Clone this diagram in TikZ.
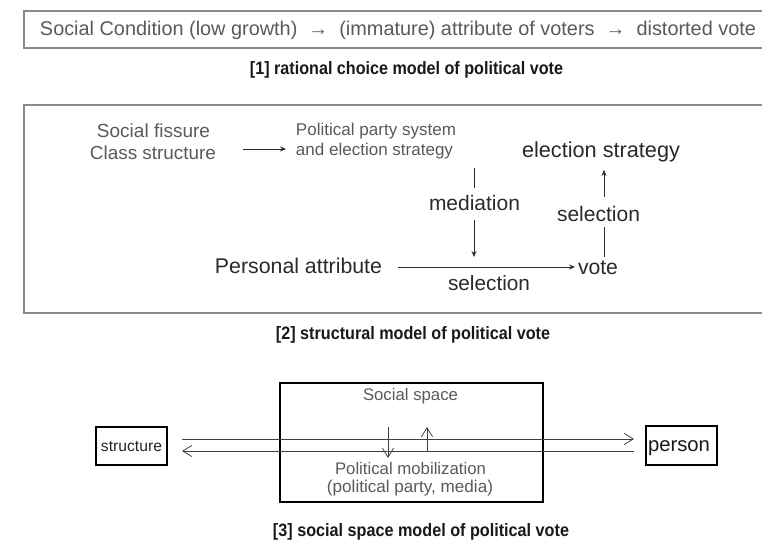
\documentclass[tikz,border=0pt]{standalone}
\usepackage{fontspec}
\setmainfont{Liberation Sans}
\usepackage{graphicx}
\usetikzlibrary{arrows.meta}
\definecolor{lgray}{HTML}{5A5A5A}
\definecolor{dgray}{HTML}{2A2A2A}
\definecolor{framegray}{HTML}{8A8A8A}
\newcommand{\fitw}[2]{\resizebox{#1pt}{!}{#2}}
\newcommand{\fitwh}[3]{\resizebox{#1pt}{#2pt}{#3}}
\tikzset{
  lbl/.style={inner sep=0pt, text=dgray},
  glbl/.style={inner sep=0pt, text=lgray},
  captxt/.style={inner sep=0pt, text=black!90, font=\bfseries},
  frame/.style={draw=framegray, line width=1.4pt},
  thickbox/.style={draw=black, line width=2pt, inner sep=0pt},
  farrow/.style={draw=dgray, line width=0.9pt, -{Stealth[length=6pt,width=5pt]}},
  fline/.style={draw=dgray, line width=0.9pt},
  oarrow/.style={draw=black!75, line width=0.8pt, -{Straight Barb[length=9pt,width=11pt]}}
}
\begin{document}
\begin{tikzpicture}[x=1pt,y=-1pt]
\useasboundingbox (0,0) rectangle (762,541);
\clip (0,0) rectangle (762,541);
\fill[white] (0,0) rectangle (762,541);

% ---------- [1] ----------
\draw[frame] (24,11) rectangle (775,48);
\node[glbl] (rc) at (398,30) {\fitw{716}{Social Condition (low growth) \ → \ (immature) attribute of voters \ → \ distorted vote}};
\node[captxt] (cap1) at (406.5,70) {\fitwh{313}{13}{[1] rational choice model of political vote}};

% ---------- [2] ----------
\draw[frame] (24,105) rectangle (775,313);
\node[glbl] (sf) at (153.5,131) {\fitw{113}{Social fissure}};
\node[glbl] (cs) at (153,153) {\fitw{126}{Class structure}};
\node[glbl] (pp1) at (376,131) {\fitw{160}{Political party system}};
\node[glbl] (pp2) at (374.5,151) {\fitw{157}{and election strategy}};
\node[lbl] (es) at (601,152) {\fitw{158}{election strategy}};
\node[lbl] (med) at (474.5,203) {\fitw{91}{mediation}};
\node[lbl] (sel1) at (598.5,214) {\fitw{83}{selection}};
\node[lbl] (pa) at (298.5,266) {\fitw{167}{Personal attribute}};
\node[lbl] (vote) at (598,268) {\fitw{40}{vote}};
\node[lbl] (sel2) at (489,283) {\fitw{82}{selection}};

\coordinate (a1s) at (243,149);
\coordinate (a1e) at (286,149);
\draw[farrow] (a1s) -- (a1e);

\coordinate (m1) at (474,168);
\coordinate (m2) at (474,188);
\coordinate (m3) at (474,220);
\coordinate (m4) at (474,257);
\draw[fline] (m1) -- (m2);
\draw[farrow] (m3) -- (m4);

\coordinate (s1) at (604,257);
\coordinate (s2) at (604,227);
\coordinate (s3) at (604,197);
\coordinate (s4) at (604,170);
\draw[fline] (s1) -- (s2);
\draw[farrow] (s3) -- (s4);

\coordinate (h1) at (398,267);
\coordinate (h2) at (575,267);
\draw[farrow] (h1) -- (h2);

\node[captxt] (cap2) at (413,335) {\fitwh{274}{13}{[2] structural model of political vote}};

% ---------- [3] ----------
\node[thickbox, minimum width=263pt, minimum height=119pt] (space) at (411.5,442.5) {};
\node[glbl] (ss) at (410.5,396) {\fitw{95}{Social space}};
\node[glbl] (pm1) at (410.5,468) {\fitw{151}{Political mobilization}};
\node[glbl] (pm2) at (410,488) {\fitw{166}{(political party, media)}};

\node[thickbox, minimum width=71pt, minimum height=38pt] (str) at (131.5,446) {};
\node[lbl, text=black!85] (strt) at (131.5,446) {\fitw{61}{structure}};
\node[thickbox, minimum width=71pt, minimum height=39pt] (per) at (681.5,445.5) {};
\node[lbl, text=black!90] (pert) at (679,448.5) {\fitw{62}{person}};

\coordinate (u1) at (182,439);
\coordinate (u2) at (634,439);
\draw[oarrow] (u1) -- (u2);
\coordinate (l1) at (634,451);
\coordinate (l2) at (182,451);
\draw[oarrow] (l1) -- (l2);

\coordinate (d1) at (388,427);
\coordinate (d2) at (388,458);
\draw[oarrow] (d1) -- (d2);
\coordinate (up1) at (427,452);
\coordinate (up2) at (427,427);
\draw[oarrow] (up1) -- (up2);

\node[captxt] (cap3) at (421,532) {\fitwh{296}{13}{[3] social space model of political vote}};
\end{tikzpicture}
\end{document}
